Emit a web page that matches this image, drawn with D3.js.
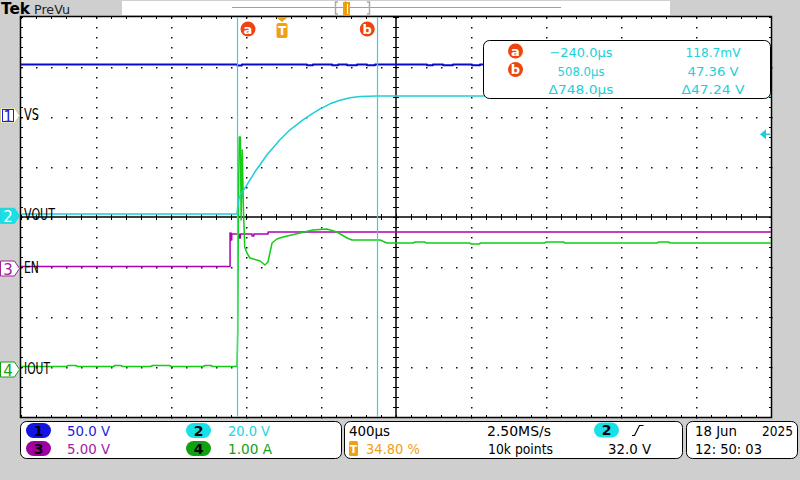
<!DOCTYPE html>
<html><head><meta charset="utf-8">
<script src="https://cdn.jsdelivr.net/npm/d3@7"></script>
<style>html,body{margin:0;padding:0;background:#cfcfcf}svg{display:block}text{font-family:"DejaVu Sans",sans-serif}</style>
</head><body><svg id="c" width="800" height="480"></svg>
<script>
// ---- data (time in µs relative to trigger) ----
const timeDomain = [-1392, 2608];          // 10 div x 400 µs, trigger at 34.80 %
const channelIds = ["1", "2", "3", "4"];
const channelNames = ["VS", "VOUT", "EN", "IOUT"];
const channelScaleLabels = ["50.0 V", "20.0 V", "5.00 V", "1.00 A"];
const unitsPerDiv = [50, 20, 5, 1];
const groundDiv = [1.94, 3.946, 5.0, 7.02];   // ground position, divisions from top
const vsData = [[-1392,49.6],[-238,48.6],[-214,49.6],[133,48.8],[165,49.6],[267,48.8],[299,49.6],[347,48.8],[400,49.6],[453,48.8],[496,49.6],[773,48.8],[805,49.6],[859,48.8],[912,49.6],[1013,48.8],[1056,49.6],[2608,49.6]];
const voutData = [[-1392,0.12],[-240,0.12],[-235,3.8],[-229,6.6],[-219,8.2],[-197,10.6],[-171,13.8],[-144,17.0],[-117,19.8],[-80,23.8],[-43,27.0],[-11,29.8],[43,33.8],[112,37.8],[160,40.2],[203,42.2],[256,44.2],[309,45.6],[363,46.6],[416,47.1],[507,47.36],[2608,47.36]];
const enData = [[-1392,0.05],[-277,3.4],[-272,2.7],[-268,3.3],[-230,2.9],[-222,3.3],[-160,3.1],[-150,3.3],[-74,3.5],[2608,3.5]];
const ioutData = [[-1392,0.03],[-1150,0.03],[-1140,0.05],[-1100,0.05],[-1090,0.03],[-900,0.03],[-890,0.05],[-860,0.05],[-850,0.03],[-700,0.03],[-690,0.05],[-600,0.05],[-590,0.03],[-420,0.03],[-410,0.05],[-380,0.05],[-370,0.03],[-240,0.03],
  [-236,0.72],[-232,3.4],[-228,4.62],[-222,4.62],[-218,2.96],[-212,4.36],[-206,3.22],[-199,2.42],[-187,2.30],[-171,2.20],[-117,2.14],[-91,2.06],[-75,2.12],[-53,2.50],[-27,2.58],[5,2.62],[96,2.70],[165,2.76],[240,2.78],[293,2.72],[347,2.60],[373,2.56],[523,2.56],[560,2.50],
  [700,2.50],[710,2.52],[760,2.52],[770,2.50],[1000,2.50],[1010,2.48],[1050,2.48],[1060,2.50],[1400,2.50],[1410,2.52],[1500,2.52],[1510,2.50],[2000,2.50],[2010,2.52],[2060,2.52],[2070,2.50],[2608,2.50]];
const cursorTimes = [-240, 508];
const cursorLabels = ["a", "b"];
const triggerLevel = 32.0;
const readoutRows = [["a","−240.0µs","118.7mV"],["b","508.0µs","47.36 V"],["","Δ748.0µs","Δ47.24 V"]];
const timebaseText = ["400µs", "34.80 %", "2.50MS/s", "10k points", "32.0 V"];
const dateText = ["18 Jun", "2025", "12: 50: 03"];

// ---- styles ----
const traceColors = ["#0a0ac8", "#1ccfd6", "#b000b4", "#14cc14"];
const labelColors = ["#1c1ce0", "#22d4dc", "#a020a0", "#14a014"];
const pillColors = ["#1414e0", "#18e0e6", "#a000a0", "#10a010"];
const orange = "#f0a010", red = "#ee4410";

const svg = d3.select("#c");
const X0 = 21, X1 = 771, Y0 = 17, Y1 = 417;
const xDiv = d3.scaleLinear().domain([0, 10]).range([X0, X1]);
const yDiv = d3.scaleLinear().domain([0, 8]).range([Y0, Y1]);
const x = d3.scaleLinear().domain(timeDomain).range([X0, X1]);
const yS = unitsPerDiv.map((u, i) => d3.scaleLinear().domain([0, u]).range([yDiv(groundDiv[i]), yDiv(groundDiv[i] - 1)]));

svg.append("rect").attr("width", 800).attr("height", 480).attr("fill", "#cfcfcf");

// ---- top bar ----
svg.append("text").attr("x", 1).attr("y", 14).attr("font-family", "Liberation Serif").attr("font-weight", "bold")
  .attr("font-size", 15).attr("textLength", 29).attr("lengthAdjust", "spacingAndGlyphs").text("Tek");
svg.append("text").attr("x", 34).attr("y", 13.5).attr("font-size", 13).attr("fill", "#222")
  .attr("textLength", 36).attr("lengthAdjust", "spacingAndGlyphs").text("PreVu");
svg.append("rect").attr("x", 122).attr("y", 1).attr("width", 548).attr("height", 14).attr("fill", "#fff");
svg.append("line").attr("x1", 232).attr("x2", 561).attr("y1", 7.5).attr("y2", 7.5).attr("stroke", "#20d4d8").attr("stroke-width", 1);
svg.append("path").attr("d", "M338,2 L335.5,2 L335.5,14 L338,14 M367,2 L369.5,2 L369.5,14 L367,14").attr("fill", "none").attr("stroke", "#aaa").attr("stroke-width", 1.5);
svg.append("rect").attr("x", 343).attr("y", 2).attr("width", 7).attr("height", 13).attr("fill", orange);
svg.append("line").attr("x1", 345.5).attr("x2", 345.5).attr("y1", 1).attr("y2", 15).attr("stroke", "#20d4d8");
svg.append("line").attr("x1", 347.5).attr("x2", 347.5).attr("y1", 4).attr("y2", 14).attr("stroke", "#fff");

// ---- graticule ----
svg.append("rect").attr("x", 20.5).attr("y", 16.5).attr("width", 751).attr("height", 401).attr("fill", "#fff");
const grid = svg.append("g").attr("fill", "#111");
const minorX = d3.range(0, 10.01, 0.2), minorY = d3.range(0, 8.01, 0.2);
[1,2,3,5,6,7].forEach(i => minorX.forEach(k => grid.append("rect").attr("x", Math.round(xDiv(k))).attr("y", Math.round(yDiv(i))).attr("width", 1.5).attr("height", 1.5)));
[1,2,3,4,6,7,8,9].forEach(i => minorY.forEach(k => grid.append("rect").attr("x", Math.round(xDiv(i))).attr("y", Math.round(yDiv(k))).attr("width", 1.5).attr("height", 1.5)));
const tk = svg.append("g").attr("stroke", "#000").attr("stroke-width", 1);
minorX.forEach(k => {
  const px = Math.round(xDiv(k)) + 0.5;
  tk.append("line").attr("x1", px).attr("x2", px).attr("y1", yDiv(4) - 3).attr("y2", yDiv(4) + 3);
  tk.append("line").attr("x1", px).attr("x2", px).attr("y1", Y0).attr("y2", Y0 + 2);
  tk.append("line").attr("x1", px).attr("x2", px).attr("y1", Y1 - 2).attr("y2", Y1);
});
minorY.forEach(k => {
  const py = Math.round(yDiv(k)) + 0.5;
  tk.append("line").attr("x1", xDiv(5) - 3).attr("x2", xDiv(5) + 3).attr("y1", py).attr("y2", py);
  tk.append("line").attr("x1", X0).attr("x2", X0 + 2).attr("y1", py).attr("y2", py);
  tk.append("line").attr("x1", X1 - 2).attr("x2", X1).attr("y1", py).attr("y2", py);
});
svg.append("line").attr("x1", X0).attr("x2", X1).attr("y1", yDiv(4)).attr("y2", yDiv(4)).attr("stroke", "#000").attr("stroke-width", 1.5);
svg.append("line").attr("x1", xDiv(5)).attr("x2", xDiv(5)).attr("y1", Y0).attr("y2", Y1).attr("stroke", "#000").attr("stroke-width", 1.5);
svg.append("rect").attr("x", 20.5).attr("y", 16.5).attr("width", 751).attr("height", 401).attr("fill", "none").attr("stroke", "#000").attr("stroke-width", 1.5);

// ---- traces ----
svg.append("clipPath").attr("id", "clip").append("rect").attr("x", X0).attr("y", Y0).attr("width", X1 - X0).attr("height", Y1 - Y0);
const traces = svg.append("g").attr("clip-path", "url(#clip)");
const series = [vsData, voutData, enData, ioutData];
const curves = [d3.curveStepAfter, d3.curveLinear, d3.curveStepAfter, d3.curveLinear];
const widths = [2, 1.5, 1.5, 1.5];
[2, 0, 3, 1].forEach(i => {
  traces.append("path").datum(series[i])
    .attr("d", d3.line().x(d => x(d[0])).y(d => yS[i](d[1])).curve(curves[i]))
    .attr("fill", "none").attr("stroke", traceColors[i]).attr("stroke-width", widths[i]).attr("stroke-linejoin", "round");
});

// ---- cursors ----
cursorTimes.forEach(t => svg.append("line").attr("x1", Math.round(x(t)) + 0.5).attr("x2", Math.round(x(t)) + 0.5)
  .attr("y1", Y0).attr("y2", Y1).attr("stroke", "#38d2dc").attr("stroke-width", 1.2));
function badge(cx, cy, letter) {
  svg.append("circle").attr("cx", cx).attr("cy", cy).attr("r", 7.5).attr("fill", red);
  svg.append("text").attr("x", cx).attr("y", cy + 4.5).attr("text-anchor", "middle").attr("font-size", 13).attr("font-weight", "bold").attr("fill", "#fff").text(letter);
}
badge(x(cursorTimes[0]) + 11, 29, cursorLabels[0]);
badge(x(cursorTimes[1]) - 10, 29, cursorLabels[1]);
// trigger position marker
const tx = x(0);
svg.append("path").attr("d", `M${tx-6},17 L${tx+6},17 L${tx},22 Z`).attr("fill", orange);
svg.append("rect").attr("x", tx - 5.5).attr("y", 23).attr("width", 11).attr("height", 15).attr("rx", 2).attr("fill", orange);
svg.append("text").attr("x", tx).attr("y", 35).attr("text-anchor", "middle").attr("font-size", 12).attr("font-weight", "bold").attr("fill", "#fff").text("T");
// trigger level arrow (ch2)
const ty = yS[1](triggerLevel);
svg.append("path").attr("d", `M${760},${ty} L${766},${ty-5} L${766},${ty+5} Z`).attr("fill", traceColors[1]);
svg.append("line").attr("x1", 765).attr("x2", 770).attr("y1", ty).attr("y2", ty).attr("stroke", traceColors[1]).attr("stroke-width", 1.5);

// ---- readout box ----
svg.append("rect").attr("x", 483.5).attr("y", 40.5).attr("width", 287).attr("height", 58).attr("rx", 6).attr("fill", "#fff").attr("stroke", "#000").attr("stroke-width", 1);
const rowY = [57, 75.5, 94], w1 = [63, 47, 65], w2 = [55, 51, 63];
readoutRows.forEach((r, i) => {
  if (r[0]) badge(515.5, rowY[i] - 6, r[0]);
  svg.append("text").attr("x", 581).attr("y", rowY[i]).attr("text-anchor", "middle").attr("font-size", 13).attr("fill", "#20d0d8")
    .attr("textLength", w1[i]).attr("lengthAdjust", "spacingAndGlyphs").text(r[1]);
  svg.append("text").attr("x", 713).attr("y", rowY[i]).attr("text-anchor", "middle").attr("font-size", 13).attr("fill", "#20d0d8")
    .attr("textLength", w2[i]).attr("lengthAdjust", "spacingAndGlyphs").text(r[2]);
});

// ---- channel markers and labels ----
const labelW = [15, 31, 15, 26];
channelIds.forEach((id, i) => {
  const cy = yDiv(groundDiv[i]) + 1.5;
  const filled = i === 1;
  svg.append("path").attr("d", `M0.5,${cy-7.5} L14.5,${cy-7.5} L19.5,${cy} L14.5,${cy+7.5} L0.5,${cy+7.5} Z`)
    .attr("fill", filled ? pillColors[1] : "#fff").attr("stroke", i === 0 ? "#d0d088" : labelColors[i]).attr("stroke-width", 1);
  if (i === 0) svg.append("rect").attr("x", 2.5).attr("y", cy - 6).attr("width", 11).attr("height", 12).attr("fill", "none").attr("stroke", labelColors[0]);
  svg.append("text").attr("x", 8).attr("y", cy + 6).attr("text-anchor", "middle").attr("font-size", 15)
    .attr("fill", filled ? "#fff" : labelColors[i]).text(id);
  svg.append("text").attr("x", 24).attr("y", cy + 4.5).attr("font-size", 15).attr("fill", "#000")
    .attr("textLength", labelW[i]).attr("lengthAdjust", "spacingAndGlyphs").text(channelNames[i]);
});

// ---- bottom panels ----
function box(x0, x1) { svg.append("rect").attr("x", x0 + 0.5).attr("y", 421.5).attr("width", x1 - x0).attr("height", 37).attr("rx", 6).attr("fill", "#fff").attr("stroke", "#000"); }
box(20, 341); box(344, 682); box(686, 797);
function pill(cx, cy, color, digit) {
  svg.append("rect").attr("x", cx - 12.5).attr("y", cy - 7.5).attr("width", 25).attr("height", 15).attr("rx", 7.5).attr("fill", color);
  svg.append("text").attr("x", cx).attr("y", cy + 5).attr("text-anchor", "middle").attr("font-size", 14).attr("font-weight", "bold").attr("fill", "#000").text(digit);
}
function txt(xp, yp, s, w, color) {
  svg.append("text").attr("x", xp).attr("y", yp).attr("font-size", 14).attr("fill", color || "#000")
    .attr("textLength", w).attr("lengthAdjust", "spacingAndGlyphs").text(s);
}
const pillPos = [[38.5, 430.5, 67], [198.5, 430.5, 228], [38.5, 448.5, 67], [198.5, 448.5, 228]];
const scaleW = [43, 42, 43, 44];
channelIds.forEach((id, i) => {
  pill(pillPos[i][0], pillPos[i][1], pillColors[i], id);
  txt(pillPos[i][2], pillPos[i][1] + 5, channelScaleLabels[i], scaleW[i], labelColors[i]);
});
txt(349, 435.5, timebaseText[0], 41);
svg.append("rect").attr("x", 349).attr("y", 441).attr("width", 9).attr("height", 15).attr("rx", 1.5).attr("fill", orange);
svg.append("text").attr("x", 353.5).attr("y", 453).attr("text-anchor", "middle").attr("font-size", 11).attr("font-weight", "bold").attr("fill", "#fff").text("T");
txt(366, 453.5, timebaseText[1], 54, orange);
txt(487, 435.5, timebaseText[2], 64);
txt(488, 453.5, timebaseText[3], 65);
pill(606.5, 430, pillColors[1], "2");
svg.append("path").attr("d", "M632,435.5 L634.5,435.5 L639.5,425.5 L643.5,425.5").attr("fill", "none").attr("stroke", "#000").attr("stroke-width", 1.2);
txt(608, 453.5, timebaseText[4], 43);
txt(695, 435.5, dateText[0], 42);
txt(762, 435.5, dateText[1], 31);
txt(695, 453.5, dateText[2], 67);
</script></body></html>
